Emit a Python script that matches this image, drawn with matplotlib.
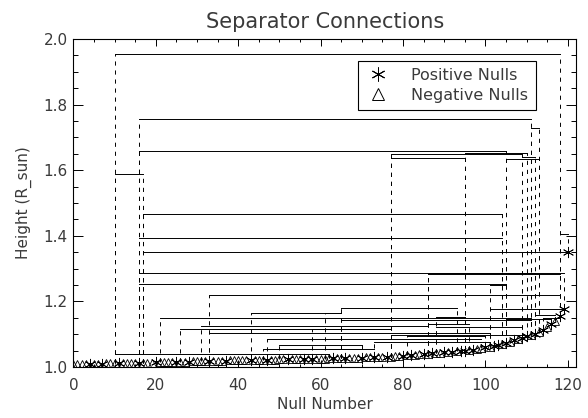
import numpy as np
import matplotlib
matplotlib.use('Agg')
import matplotlib.pyplot as plt
from matplotlib.lines import Line2D
from matplotlib.ticker import MultipleLocator

# null heights (R_sun), sorted, index = null number
heights = [
    1.008, 1.008, 1.009, 1.009, 1.009, 1.010, 1.010, 1.010, 1.011, 1.011,
    1.011, 1.011, 1.012, 1.012, 1.012, 1.012, 1.013, 1.013, 1.013, 1.013,
    1.014, 1.014, 1.014, 1.015, 1.015, 1.015, 1.016, 1.016, 1.016, 1.017,
    1.017, 1.017, 1.018, 1.018, 1.018, 1.019, 1.019, 1.019, 1.020, 1.020,
    1.020, 1.020, 1.021, 1.021, 1.021, 1.021, 1.022, 1.022, 1.022, 1.022,
    1.023, 1.023, 1.023, 1.023, 1.024, 1.024, 1.024, 1.024, 1.025, 1.025,
    1.025, 1.025, 1.026, 1.026, 1.026, 1.027, 1.027, 1.027, 1.028, 1.028,
    1.028, 1.029, 1.029, 1.030, 1.030, 1.031, 1.031, 1.032, 1.033, 1.034,
    1.035, 1.036, 1.037, 1.038, 1.039, 1.040, 1.041, 1.042, 1.043, 1.044,
    1.045, 1.046, 1.047, 1.048, 1.049, 1.050, 1.051, 1.053, 1.055, 1.057,
    1.060, 1.062, 1.064, 1.067, 1.070, 1.073, 1.077, 1.081, 1.085, 1.089,
    1.093, 1.097, 1.102, 1.108, 1.114, 1.121, 1.130, 1.140, 1.155, 1.176,
    1.350,
]
# P = positive null, N = negative null
null_types = ("NNNNPNNPNN" "NPNNNNPNNN" "PNNNNPNNPN" "NNNPNNNPNN" "NNNPNNNPNN"
              "NNPNNNPNPN" "NNNPNNPNNN" "PNNPNNPNNN" "PNPNNPNPNN" "PNPNPPNPNN"
              "PNPPNPNPNP" "PNPNPNPNPP" "P")

# separator connections: null a, null b, connection height
conn_a = [10, 16, 111, 16, 10, 77, 77, 95, 105, 109, 118,
          17, 16, 17, 16, 86, 86, 16, 101, 33,
          43, 61, 65, 101, 21, 65, 88, 105, 31, 86, 26, 58,
          33, 81, 77, 88, 47, 73, 50, 46, 62, 10, 112, 114]
conn_b = [118, 111, 113, 105, 17, 109, 95, 110, 113, 112, 120,
          104, 104, 120, 112, 119, 118, 105, 105, 118,
          65, 65, 93, 119, 111, 111, 95, 116, 86, 96, 77, 77,
          101, 100, 110, 109, 99, 101, 70, 73, 70, 62, 117, 118]
conn_h = [1.953, 1.755, 1.728, 1.659, 1.589, 1.648, 1.636, 1.653, 1.633, 1.640, 1.405,
          1.465, 1.392, 1.352, 1.286, 1.288, 1.283, 1.252, 1.250, 1.218,
          1.165, 1.166, 1.179, 1.176, 1.150, 1.143, 1.152, 1.145, 1.125, 1.132, 1.115, 1.117,
          1.104, 1.094, 1.097, 1.122, 1.086, 1.075, 1.066, 1.056, 1.055, 1.041, 1.158, 1.150]

plt.rcParams['font.family'] = ['DejaVu Sans']
plt.rcParams['lines.scale_dashes'] = False
txt = '#3a3a3a'

fig = plt.figure(figsize=(5.88, 4.18), dpi=100)
ax = fig.add_axes([0.1247, 0.122, 0.855, 0.7847])

for a, b, h in zip(conn_a, conn_b, conn_h):
    ax.plot([a, a], [heights[a], h], color='k', lw=0.7, dashes=(3, 3.5))
    ax.plot([b, b], [heights[b], h], color='k', lw=0.7, dashes=(3, 3.5))
    ax.plot([a, b], [h, h], color='k', lw=0.7)

idx = np.arange(len(heights))
hv = np.array(heights)
isP = np.array([c == 'P' for c in null_types])
ax.plot(idx[~isP], hv[~isP], ls='none', marker='^', ms=6, mfc='none', mec='k', mew=0.6)
ax.plot(idx[isP], hv[isP], ls='none', marker=(6, 2, 0), ms=8, mec='k', mew=0.6)

ax.set_xlim(0, 122)
ax.set_ylim(1.0, 2.0)
ax.xaxis.set_major_locator(MultipleLocator(20))
ax.xaxis.set_minor_locator(MultipleLocator(5))
ax.yaxis.set_major_locator(MultipleLocator(0.2))
ax.yaxis.set_minor_locator(MultipleLocator(0.05))
ax.yaxis.set_major_formatter(plt.FormatStrFormatter('%.1f'))
ax.tick_params(which='both', direction='in', top=True, right=True, colors='k',
               labelcolor=txt, labelsize=11, width=0.7)
ax.tick_params(axis='x', which='major', length=4.8, pad=8)
ax.tick_params(axis='x', which='minor', length=2.4)
ax.tick_params(axis='y', which='major', length=7.2, pad=4)
ax.tick_params(axis='y', which='minor', length=3.6)
for s in ax.spines.values():
    s.set_linewidth(0.8)

ax.set_title('Separator Connections', fontsize=15, color=txt, pad=8)
ax.set_xlabel('Null Number', fontsize=11, color=txt, labelpad=3)
ax.set_ylabel('Height (R_sun)', fontsize=11, color=txt, labelpad=8)

handles = [Line2D([], [], ls='none', marker=(6, 2, 0), ms=10, mec='k', mew=0.7),
           Line2D([], [], ls='none', marker='^', ms=9, mfc='none', mec='k', mew=0.7)]
leg = ax.legend(handles, ['Positive Nulls', 'Negative Nulls'], loc='upper left',
                bbox_to_anchor=(0.566, 0.934), fancybox=False, framealpha=1,
                edgecolor='k', fontsize=11.5, handletextpad=1.3, borderpad=0.45,
                labelspacing=0.3, borderaxespad=0, handlelength=1.6)
leg.get_frame().set_linewidth(0.8)
for t in leg.get_texts():
    t.set_color(txt)

fig.savefig('out.png', dpi=100)
